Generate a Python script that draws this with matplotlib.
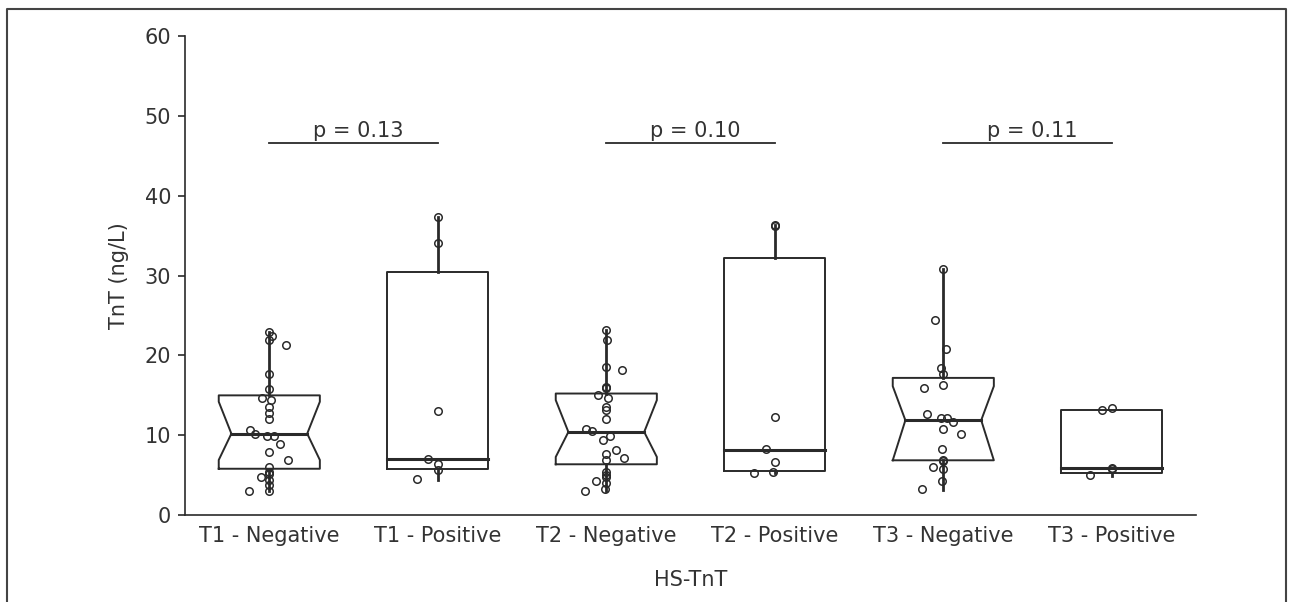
import numpy as np
import matplotlib
matplotlib.use('Agg')
import matplotlib.pyplot as plt
from matplotlib.lines import Line2D

plt.rcParams['font.family'] = ['DejaVu Sans']

# Categorías del eje x
grupos = ['T1 - Negative', 'T1 - Positive', 'T2 - Negative',
          'T2 - Positive', 'T3 - Negative', 'T3 - Positive']

# Estadísticos de cada caja
q1 = [5.8, 5.82, 6.36, 5.52, 6.86, 5.3]
mediana = [10.2, 7.08, 10.41, 8.2, 11.88, 5.86]
q3 = [15.0, 30.5, 15.23, 32.25, 17.19, 13.17]
bigote_inf = [3.0, 4.45, 3.0, 5.3, 3.19, 4.9]
bigote_sup = [22.9, 37.3, 23.2, 36.4, 30.8, 13.17]
ci_inf = [6.9, None, 7.28, None, 6.86, None]
ci_sup = [14.2, None, 14.4, None, 16.15, None]

# Puntos individuales y su desplazamiento horizontal
t1_neg = [22.9, 22.5, 21.9, 21.3, 17.7, 15.8, 14.7, 14.4, 13.6, 12.8, 12.0, 10.6, 10.2,
          9.9, 9.9, 8.9, 7.95, 6.95, 6.0, 5.4, 5.1, 4.8, 4.45, 3.7, 3.0, 3.0]
t1_neg_dx = [0, 0.016, 0, 0.10, 0, 0, -0.043, 0.012, 0, 0, 0, -0.115, -0.087,
             -0.016, 0.028, 0.063, 0, 0.113, 0, 0, 0, -0.052, 0, 0, -0.119, 0]
t1_pos = [37.3, 34.1, 13.05, 7.08, 6.45, 5.7, 4.5]
t1_pos_dx = [0, 0, 0, -0.059, 0, 0, -0.122]
t2_neg = [23.2, 21.9, 18.5, 18.15, 16.1, 15.9, 15.0, 14.7, 13.5, 13.2, 12.0, 10.75, 10.5,
          9.87, 9.37, 8.1, 7.6, 7.1, 6.95, 5.4, 5.07, 4.77, 4.23, 4.0, 3.3, 3.0]
t2_neg_dx = [0, 0.004, 0, 0.091, 0, 0, -0.047, 0.012, 0, 0, 0, -0.119, -0.087,
             0.02, -0.02, 0.059, 0, 0.103, 0, 0, 0, 0, -0.059, 0, -0.008, -0.126]
t2_pos = [36.4, 36.2, 12.3, 8.33, 6.65, 5.4, 5.27]
t2_pos_dx = [0, 0, 0, -0.055, 0, -0.01, -0.125]
t3_neg = [30.8, 24.5, 20.75, 18.37, 17.74, 16.36, 15.94, 12.63, 12.17, 12.17, 11.67,
          10.75, 10.21, 8.24, 6.95, 6.74, 6.02, 5.82, 4.23, 3.31]
t3_neg_dx = [0, -0.049, 0.018, -0.014, 0, 0, -0.115, -0.095, -0.016, 0.024, 0.055,
             0, 0.107, -0.01, 0, 0, -0.059, 0, -0.01, -0.129]
t3_pos = [13.38, 13.13, 5.93, 5.8, 4.98]
t3_pos_dx = [0, -0.056, 0, 0, -0.128]

puntos = [t1_neg, t1_pos, t2_neg, t2_pos, t3_neg, t3_pos]
puntos_dx = [t1_neg_dx, t1_pos_dx, t2_neg_dx, t2_pos_dx, t3_neg_dx, t3_pos_dx]

# Comparaciones (pares de grupos) y valores p
pares = [(0, 1), (2, 3), (4, 5)]
p_valores = ['p = 0.13', 'p = 0.10', 'p = 0.11']
altura_linea = 46.6

color = '#2a2a2a'
texto = '#333333'
ancho = 0.6

fig = plt.figure(figsize=(12.94, 6.02), dpi=100)
ax = fig.add_axes([0.143, 0.1445, 0.7813, 0.795])

for i in range(len(grupos)):
    izq, der = i - ancho / 2, i + ancho / 2
    if ci_inf[i] is not None:
        nl, nr = i - ancho * 0.375, i + ancho * 0.375
        xs = [izq, der, der, nr, der, der, izq, izq, nl, izq, izq]
        ys = [q1[i], q1[i], ci_inf[i], mediana[i], ci_sup[i], q3[i], q3[i],
              ci_sup[i], mediana[i], ci_inf[i], q1[i]]
        ax.plot(xs, ys, color=color, lw=1.4, zorder=2)
        ax.plot([nl, nr], [mediana[i], mediana[i]], color=color, lw=2.2, zorder=2)
    else:
        ax.plot([izq, der, der, izq, izq], [q1[i], q1[i], q3[i], q3[i], q1[i]],
                color=color, lw=1.4, zorder=2)
        ax.plot([izq, der], [mediana[i], mediana[i]], color=color, lw=2.2, zorder=2)
    # bigotes sin tope
    ax.plot([i, i], [q3[i], bigote_sup[i]], color=color, lw=2.0, zorder=2)
    ax.plot([i, i], [q1[i], bigote_inf[i]], color=color, lw=2.0, zorder=2)
    xs_p = np.array(puntos_dx[i]) + i
    ax.plot(xs_p, puntos[i], 'o', ms=5.4, mfc='none', mec=color, mew=1.1, zorder=3)

for (a, b), txt in zip(pares, p_valores):
    ax.plot([a, b], [altura_linea, altura_linea], color=color, lw=1.3)
    ax.text((a + b) / 2 + 0.03, 47.4, txt, ha='center', va='baseline',
            fontsize=15, color=texto)

ax.set_xlim(-0.5, 5.5)
ax.set_ylim(0, 60)
ax.set_yticks([0, 10, 20, 30, 40, 50, 60])
ax.set_xticks(range(len(grupos)))
ax.set_xticklabels(grupos)
ax.tick_params(axis='x', length=0, pad=8, labelsize=15, colors=texto)
ax.tick_params(axis='y', length=5, width=1.2, pad=5, labelsize=15,
               colors=texto, color=color)
ax.spines['top'].set_visible(False)
ax.spines['right'].set_visible(False)
ax.spines['left'].set_color(color)
ax.spines['bottom'].set_color(color)
ax.spines['left'].set_linewidth(1.2)
ax.spines['bottom'].set_linewidth(1.2)
ax.set_xlabel('HS-TnT', fontsize=15, color=texto, labelpad=17)
ax.set_ylabel('TnT (ng/L)', fontsize=15, color=texto, labelpad=11)

# Marco exterior de la figura (sin borde inferior)
x0, x1, y1 = 7 / 1294, 1286 / 1294, 1 - 9 / 602
fig.add_artist(Line2D([x0, x0, x1, x1], [0, y1, y1, 0], color='#444444', lw=1.5))

fig.savefig('out.png', dpi=100)
